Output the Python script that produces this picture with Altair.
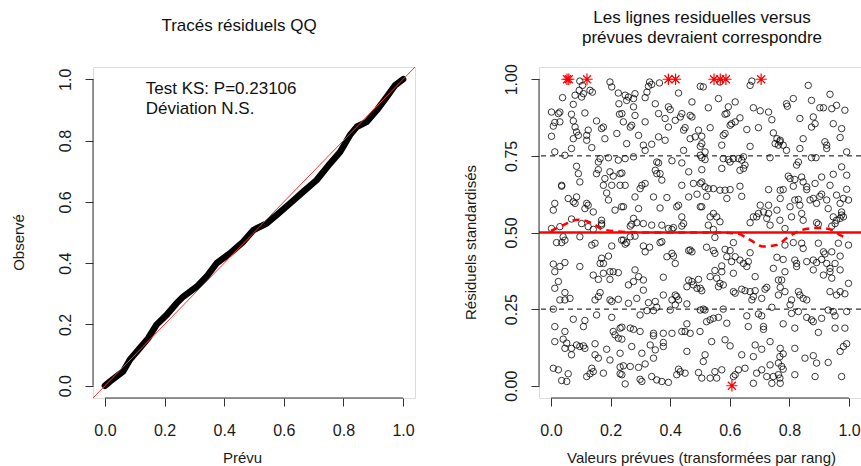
import altair as alt
import pandas as pd

# ---------------- left panel: QQ plot ----------------
qq_expected = [0.0, 0.017, 0.061, 0.084, 0.117, 0.145, 0.173, 0.207, 0.24, 0.263, 0.308, 0.341,
               0.375, 0.419, 0.464, 0.498, 0.543, 0.576, 0.621, 0.665, 0.71, 0.755, 0.789, 0.822,
               0.845, 0.878, 0.912, 0.945, 0.973, 1.0]
qq_observed = [0.0, 0.014, 0.047, 0.085, 0.123, 0.155, 0.199, 0.231, 0.269, 0.291, 0.323, 0.356,
               0.4, 0.432, 0.47, 0.508, 0.53, 0.557, 0.595, 0.633, 0.671, 0.725, 0.763, 0.818,
               0.845, 0.861, 0.899, 0.942, 0.98, 1.0]
identity_line = [-0.04, 1.04]
ks_x = [0.137, 0.137]
ks_y = [0.951, 0.886]
ks_text = ["Test KS: P=0.23106", "Déviation N.S."]

# ---------------- right panel: residuals vs predicted ----------------
pts_a = [(0.097,0.994),(0.106,0.98),(0.131,0.964),(0.095,0.964),(0.109,0.953),(0.081,0.948),(0.103,0.942),
         (0.198,0.991),(0.204,0.975),(0.226,0.955),(0.139,0.958),(0.039,0.94),(0.075,0.918),(0.228,0.92),
         (0.002,0.893),(0.03,0.893),(0.025,0.888),(0.069,0.886),(0.114,0.89),(0.23,0.886),
         (0.013,0.859),(0.03,0.861),(0.008,0.847),(0.075,0.864),(0.081,0.844),(0.153,0.864),(0.176,0.844),
         (0.17,0.839),(0.221,0.823),(0.086,0.828),(0.092,0.817),(0.125,0.834),(0.12,0.817),(0.002,0.814),
         (0.075,0.806),(0.12,0.801),(0.181,0.806),(0.069,0.774),(0.137,0.777),(0.013,0.763),(0.047,0.752),
         (0.165,0.741),(0.159,0.73),(0.193,0.744),(0.226,0.736),(0.086,0.716),(0.159,0.705),(0.153,0.692),
         (0.092,0.692),(0.198,0.698),(0.209,0.684),(0.232,0.692),(0.181,0.676),(0.097,0.665),(0.036,0.654),
         (0.036,0.651),(0.176,0.654),(0.204,0.654),(0.232,0.654),(0.187,0.629),(0.058,0.611),(0.086,0.616),
         (0.075,0.6),(0.081,0.595),(0.013,0.595),(0.193,0.606),(0.12,0.595),(0.125,0.589),(0.114,0.578),
         (0.008,0.573),(0.142,0.567),(0.215,0.573),(0.237,0.584),(0.17,0.54),(0.17,0.529),(0.17,0.524),
         (0.069,0.544),(0.103,0.529),(0.03,0.519),(0.002,0.513),(0.125,0.519),(0.142,0.51)]
pts_b = [(0.331,0.991),(0.338,0.983),(0.327,0.977),(0.364,0.988),(0.501,0.977),(0.428,0.955),(0.282,0.953),
         (0.322,0.958),(0.249,0.948),(0.26,0.942),(0.277,0.937),(0.254,0.931),(0.316,0.94),(0.35,0.92),
         (0.473,0.926),(0.394,0.91),(0.4,0.901),(0.277,0.91),(0.238,0.888),(0.282,0.882),(0.361,0.888),
         (0.383,0.872),(0.439,0.888),(0.434,0.877),(0.467,0.882),(0.473,0.877),(0.417,0.866),(0.316,0.861),
         (0.243,0.861),(0.271,0.85),(0.266,0.844),(0.394,0.844),(0.45,0.842),(0.445,0.834),(0.495,0.834),
         (0.467,0.806),(0.484,0.812),(0.294,0.817),(0.506,0.814),(0.361,0.812),(0.383,0.801),(0.254,0.79),
         (0.31,0.785),(0.338,0.788),(0.316,0.768),(0.445,0.768),(0.501,0.781),
         (0.249,0.741),(0.277,0.747),(0.355,0.73),(0.361,0.727),(0.406,0.734),(0.439,0.727),(0.501,0.752),
         (0.506,0.744),(0.238,0.694),(0.35,0.703),(0.355,0.692),(0.366,0.692),(0.372,0.671),(0.316,0.66),
         (0.305,0.654),(0.299,0.643),(0.249,0.654),(0.439,0.654),(0.462,0.698),(0.478,0.66),(0.501,0.66),
         (0.389,0.614),(0.344,0.616),(0.282,0.616),(0.462,0.616),(0.49,0.625),(0.501,0.584),(0.243,0.584),
         (0.428,0.589),(0.422,0.584),(0.294,0.578),(0.366,0.58),(0.439,0.551),(0.277,0.546),(0.288,0.532),
         (0.31,0.529),(0.271,0.527),(0.266,0.521),(0.338,0.524),(0.372,0.524),(0.394,0.513),(0.406,0.51),
         (0.411,0.516),(0.445,0.529),(0.439,0.521)]
pts_c = [(0.511,0.975),(0.567,0.991),(0.668,0.98),(0.674,0.994),(0.562,0.937),(0.528,0.907),(0.595,0.91),
         (0.618,0.926),(0.679,0.907),(0.702,0.897),(0.73,0.893),(0.59,0.888),(0.584,0.886),(0.741,0.868),
         (0.634,0.874),(0.618,0.861),(0.606,0.855),(0.601,0.85),(0.534,0.842),(0.696,0.842),(0.657,0.836),
         (0.584,0.823),(0.578,0.817),(0.746,0.825),(0.758,0.806),(0.769,0.801),(0.506,0.79),(0.752,0.79),
         (0.517,0.763),(0.573,0.785),(0.668,0.781),(0.763,0.785),
         (0.578,0.741),(0.595,0.738),(0.601,0.73),(0.612,0.741),(0.629,0.741),(0.646,0.747),(0.64,0.736),
         (0.517,0.738),(0.735,0.744),(0.651,0.72),(0.646,0.709),(0.573,0.709),(0.506,0.705),(0.634,0.703),
         (0.506,0.665),(0.517,0.649),(0.528,0.643),(0.545,0.643),(0.567,0.638),(0.584,0.638),(0.601,0.64),
         (0.634,0.651),(0.73,0.64),(0.769,0.638),(0.522,0.618),(0.59,0.611),(0.64,0.618),(0.769,0.611),
         (0.506,0.584),(0.545,0.562),(0.556,0.551),(0.534,0.551),(0.567,0.535),(0.528,0.524),(0.545,0.51),
         (0.668,0.532),(0.679,0.551),(0.696,0.562),(0.713,0.567),(0.73,0.562),(0.724,0.546),(0.735,0.524),
         (0.758,0.573),(0.702,0.589),(0.73,0.589),(0.69,0.551)]
pts_d = [(0.863,0.98),(0.936,0.951),(0.813,0.937),(0.874,0.931),(0.79,0.92),(0.793,0.912),(0.902,0.907),
         (0.914,0.907),(0.942,0.904),(0.958,0.915),(0.986,0.899),(0.835,0.872),(0.88,0.877),(0.886,0.855),
         (0.874,0.844),(0.947,0.855),(0.975,0.839),(0.846,0.806),(0.97,0.81),(0.768,0.796),(0.779,0.785),
         (0.79,0.768),(0.835,0.774),(0.919,0.796),(0.925,0.774),(0.925,0.785),(0.992,0.763),(0.874,0.744),
         (0.889,0.744),
         (0.83,0.73),(0.824,0.72),(0.975,0.714),(0.947,0.69),(0.992,0.687),(0.908,0.681),(0.796,0.684),
         (0.802,0.676),(0.818,0.673),(0.841,0.681),(0.846,0.665),(0.813,0.651),(0.858,0.649),(0.858,0.64),
         (0.779,0.64),(0.886,0.66),(0.936,0.654),(0.992,0.641),(0.981,0.611),(0.902,0.618),(0.908,0.625),
         (0.88,0.611),(0.869,0.606),(0.83,0.608),(0.818,0.606),(0.802,0.584),(0.835,0.589),(0.925,0.606),
         (0.958,0.622),(0.891,0.595),(0.97,0.595),(0.93,0.578),(0.975,0.567),(0.998,0.606),(0.807,0.551),
         (0.846,0.54),(0.841,0.562),(0.891,0.532),(0.897,0.527),(0.947,0.551),(0.958,0.54),(0.97,0.546),
         (0.975,0.557),(0.981,0.551),(0.953,0.529),(0.942,0.521),(0.785,0.513),(0.768,0.54)]
pts_e = [(0.041,0.486),(0.047,0.475),(0.019,0.467),(0.036,0.467),(0.097,0.486),(0.137,0.459),(0.148,0.465),
         (0.204,0.456),(0.237,0.475),(0.17,0.416),(0.176,0.399),(0.193,0.423),(0.165,0.399),(0.008,0.397),
         (0.013,0.372),(0.03,0.389),(0.047,0.402),(0.097,0.389),(0.142,0.361),(0.159,0.347),(0.176,0.367),
         (0.198,0.372),(0.209,0.372),(0.226,0.369),(0.198,0.347),(0.013,0.318),(0.025,0.34),(0.047,0.304),
         (0.03,0.28),(0.047,0.28),(0.064,0.285),(0.165,0.304),(0.159,0.291),(0.148,0.28),(0.198,0.28),
         (0.204,0.275),(0.226,0.282),(0.008,0.25),(0.075,0.217),(0.114,0.213),(0.109,0.193),(0.153,0.231),
         (0.204,0.223),(0.013,0.193),(0.047,0.177),(0.209,0.177),(0.215,0.166),(0.226,0.155),(0.232,0.188),
         (0.013,0.144),(0.041,0.152),(0.053,0.139),(0.047,0.122),(0.069,0.122),(0.086,0.133),(0.097,0.128),
         (0.109,0.13),(0.114,0.122),(0.148,0.137),(0.069,0.101),(0.148,0.101),(0.159,0.09),(0.187,0.119),
         (0.198,0.084),(0.008,0.057),(0.025,0.052),(0.058,0.039),(0.036,0.017),(0.053,0.014),(0.12,0.03),
         (0.131,0.039),(0.137,0.057),(0.142,0.046),(0.176,0.041),(0.232,0.061),(0.232,0.039)]
pts_f = [(0.243,0.475),(0.254,0.467),(0.249,0.462),(0.266,0.486),(0.282,0.488),(0.31,0.456),(0.316,0.437),
         (0.331,0.452),(0.366,0.467),(0.372,0.47),(0.406,0.432),(0.411,0.423),(0.389,0.421),(0.417,0.399),
         (0.467,0.443),(0.473,0.437),(0.462,0.441),(0.282,0.378),(0.294,0.356),(0.277,0.34),(0.26,0.329),
         (0.31,0.345),(0.31,0.312),(0.377,0.354),(0.462,0.345),(0.473,0.34),(0.478,0.329),(0.49,0.318),
         (0.501,0.318),(0.456,0.323),(0.495,0.347),(0.417,0.296),(0.422,0.291),(0.406,0.28),(0.428,0.28),
         (0.417,0.264),(0.377,0.296),(0.35,0.275),(0.327,0.271),(0.26,0.269),(0.288,0.285),(0.299,0.231),
         (0.322,0.245),(0.344,0.245),(0.355,0.256),(0.4,0.247),(0.456,0.267),(0.501,0.247),
         (0.238,0.191),(0.266,0.188),(0.277,0.184),(0.299,0.177),(0.344,0.171),(0.344,0.163),(0.377,0.171),
         (0.406,0.171),(0.439,0.177),(0.45,0.177),(0.467,0.171),(0.456,0.202),(0.377,0.141),(0.377,0.128),
         (0.333,0.133),(0.35,0.117),(0.271,0.128),(0.238,0.152),(0.232,0.106),(0.305,0.106),(0.344,0.09),
         (0.456,0.112),(0.316,0.071),(0.243,0.065),(0.266,0.063),(0.294,0.06),(0.428,0.054),(0.434,0.046),
         (0.45,0.041),(0.422,0.036),(0.495,0.043),(0.299,0.021),(0.305,0.014),(0.249,0.006),(0.355,0.019),
         (0.372,0.014),(0.394,0.011),(0.238,0.036),(0.338,0.03)]
pts_g = [(0.55,0.484),(0.612,0.467),(0.522,0.452),(0.545,0.441),(0.55,0.432),(0.584,0.445),(0.601,0.441),
         (0.59,0.421),(0.618,0.421),(0.606,0.405),(0.634,0.41),(0.646,0.399),(0.662,0.405),(0.668,0.434),
         (0.657,0.389),(0.612,0.367),(0.573,0.391),(0.55,0.376),(0.534,0.356),(0.573,0.372),(0.556,0.351),
         (0.567,0.334),(0.562,0.323),(0.578,0.329),(0.506,0.31),(0.612,0.307),(0.618,0.302),(0.64,0.315),
         (0.651,0.31),(0.668,0.307),(0.685,0.31),(0.679,0.291),(0.674,0.28),(0.707,0.285),(0.724,0.321),
         (0.718,0.315),(0.758,0.419),(0.746,0.383),(0.685,0.356),(0.763,0.345),(0.769,0.321),(0.763,0.296),
         (0.511,0.25),(0.517,0.247),(0.578,0.25),(0.741,0.256),
         (0.534,0.215),(0.522,0.209),(0.545,0.22),(0.562,0.223),(0.59,0.204),(0.657,0.228),(0.696,0.234),
         (0.707,0.228),(0.713,0.193),(0.713,0.184),(0.662,0.193),(0.5,0.177),(0.539,0.144),(0.584,0.15),
         (0.601,0.13),(0.685,0.133),(0.707,0.119),(0.735,0.144),(0.769,0.122),(0.517,0.101),(0.64,0.101),
         (0.679,0.095),(0.511,0.079),(0.55,0.046),(0.573,0.052),(0.629,0.052),(0.612,0.03),(0.618,0.036),
         (0.651,0.057),(0.69,0.041),(0.707,0.052),(0.724,0.03),(0.746,0.03),(0.741,0.008),(0.679,0.008),
         (0.763,0.074),(0.735,0.068),(0.506,0.025),(0.534,0.025),(0.556,0.025),(0.763,0.036),(0.769,0.008)]
pts_h = [(0.785,0.459),(0.813,0.467),(0.841,0.465),(0.846,0.448),(0.897,0.465),(0.964,0.465),(0.998,0.459),
         (0.914,0.437),(0.919,0.43),(0.942,0.437),(0.97,0.423),(0.779,0.412),(0.818,0.41),(0.824,0.399),
         (0.824,0.389),(0.858,0.405),(0.88,0.41),(0.891,0.402),(0.908,0.412),(0.925,0.399),(0.953,0.399),
         (0.88,0.378),(0.914,0.361),(0.936,0.383),(0.936,0.372),(0.942,0.351),(0.97,0.378),(0.785,0.372),
         (0.774,0.345),(0.998,0.334),(0.785,0.307),(0.83,0.307),(0.835,0.296),(0.846,0.285),(0.858,0.28),
         (0.807,0.28),(0.802,0.264),(0.936,0.307),(0.958,0.296),(0.97,0.307),(0.986,0.3),
         (0.807,0.236),(0.83,0.242),(0.93,0.247),(0.947,0.242),(0.953,0.228),(0.992,0.242),(0.858,0.223),
         (0.874,0.215),(0.88,0.209),(0.908,0.22),(0.779,0.202),(0.818,0.188),(0.897,0.174),(0.953,0.188),
         (0.986,0.188),(0.818,0.122),(0.97,0.112),(0.981,0.128),(0.992,0.137),(0.779,0.104),(0.768,0.095),
         (0.852,0.09),(0.88,0.098),(0.891,0.074),(0.93,0.076),(0.774,0.063),(0.779,0.054),(0.818,0.036),
         (0.886,0.03),(0.975,0.03),(0.768,0.025)]

outlier_x = [0.054, 0.06, 0.121, 0.394, 0.418, 0.547, 0.568, 0.587, 0.705, 0.607]
outlier_y = [1.0, 1.0, 1.0, 1.0, 1.0, 1.0, 1.0, 1.0, 1.0, 0.0]

median_x = [0.0, 0.041, 0.09, 0.142, 0.174, 0.25, 0.35, 0.45, 0.55, 0.623, 0.668, 0.712, 0.757,
            0.796, 0.859, 0.9, 0.942, 0.975, 0.997]
median_y = [0.505, 0.524, 0.542, 0.528, 0.51, 0.502, 0.5, 0.5, 0.5, 0.497, 0.476, 0.454, 0.459,
            0.486, 0.512, 0.515, 0.508, 0.489, 0.482]

quartile_refs = [0.25, 0.75]
median_ref = [0.5]
axis_span = [0.0, 1.0]

ticks_unit = [0.0, 0.2, 0.4, 0.6, 0.8, 1.0]
ticks_resid = [0.0, 0.25, 0.5, 0.75, 1.0]

FONT = "Liberation Sans"
DOM = [-0.04, 1.04]
W, H = 322, 331
AXC = "#333333"
TXT = "#1a1a1a"


def sc():
    return alt.Scale(domain=DOM, nice=False, zero=False)


def x_axis(title, title_x, fmt):
    return alt.Axis(values=ticks_unit, format=fmt, domain=False, grid=False, ticks=True,
                    tickSize=8, tickColor=AXC, tickWidth=1,
                    labelFont=FONT, labelFontSize=16, labelColor=TXT, labelPadding=16,
                    labelBaseline="top", labelAlign="center", labelFlush=False, labelOverlap=False,
                    title=title, titleFont=FONT, titleFontSize=15, titleFontWeight="normal",
                    titleColor=TXT, titleX=title_x, titleY=64, titleAlign="center",
                    titleBaseline="alphabetic")


def y_axis(title, title_x, fmt, values):
    return alt.Axis(values=values, format=fmt, domain=False, grid=False, ticks=True,
                    tickSize=8, tickColor=AXC, tickWidth=1,
                    labelFont=FONT, labelFontSize=16, labelColor=TXT, labelPadding=15,
                    labelAngle=270, labelAlign="center", labelBaseline="alphabetic",
                    labelFlush=False, labelOverlap=False,
                    title=title, titleFont=FONT, titleFontSize=15, titleFontWeight="normal",
                    titleColor=TXT, titleAngle=270, titleX=title_x, titleY=175,
                    titleAlign="center", titleBaseline="alphabetic")


# ---------------- left panel ----------------
ax_l = x_axis("Prévu", 149, ".1f")
ay_l = y_axis("Observé", -70, ".1f", ticks_unit)

qq_df = pd.DataFrame({"e": qq_expected, "o": qq_observed})
id_df = pd.DataFrame({"v": identity_line})
ks_df = pd.DataFrame({"x": ks_x, "y": ks_y, "t": ks_text})
span_df = pd.DataFrame({"a": [axis_span[0]], "b": [axis_span[1]]})

qq_line = alt.Chart(qq_df).mark_line(color="black", strokeWidth=6.5, strokeCap="round",
                                     strokeJoin="round").encode(
    x=alt.X("e:Q", scale=sc(), axis=ax_l),
    y=alt.Y("o:Q", scale=sc(), axis=ay_l),
)
id_line = alt.Chart(id_df).mark_line(color="#ff3030", strokeWidth=1).encode(
    x=alt.X("v:Q", scale=sc(), axis=ax_l),
    y=alt.Y("v:Q", scale=sc(), axis=ay_l),
)
ks_txt = alt.Chart(ks_df).mark_text(align="left", baseline="alphabetic", font=FONT,
                                    fontSize=17, color="#111111").encode(
    x=alt.X("x:Q", scale=sc(), axis=ax_l),
    y=alt.Y("y:Q", scale=sc(), axis=ay_l),
    text="t:N",
)


def axis_lines(axx, axy):
    yline = alt.Chart(span_df).mark_rule(color=AXC, strokeWidth=1).encode(
        x=alt.X(datum=DOM[0], scale=sc(), axis=axx),
        y=alt.Y("a:Q", scale=sc(), axis=axy),
        y2="b:Q",
    )
    xline = alt.Chart(span_df).mark_rule(color=AXC, strokeWidth=1).encode(
        y=alt.Y(datum=DOM[0], scale=sc(), axis=axy),
        x=alt.X("a:Q", scale=sc(), axis=axx),
        x2="b:Q",
    )
    return yline + xline


left = alt.layer(qq_line, id_line, ks_txt, axis_lines(ax_l, ay_l)).properties(
    width=W, height=H,
    title=alt.TitleParams("Tracés résiduels QQ", font=FONT, fontSize=17, fontWeight="normal",
                          color="#111111", anchor="middle", frame="group", dx=-15,
                          baseline="bottom", offset=13),
)

# ---------------- right panel ----------------
ax_r = x_axis("Valeurs prévues (transformées par rang)", 162, ".1f")
ay_r = y_axis("Résiduels standardisés", -64, ".2f", ticks_resid)

res_df = pd.DataFrame(pts_a + pts_b + pts_c + pts_d + pts_e + pts_f + pts_g + pts_h,
                      columns=["x", "y"])
out_df = pd.DataFrame({"x": outlier_x, "y": outlier_y})
med_df = pd.DataFrame({"x": median_x, "y": median_y})
q_df = pd.DataFrame({"q": quartile_refs})
m_df = pd.DataFrame({"q": median_ref})

circles = alt.Chart(res_df).mark_point(shape="circle", filled=False, size=42, stroke="black",
                                       strokeWidth=1, opacity=0.78).encode(
    x=alt.X("x:Q", scale=sc(), axis=ax_r),
    y=alt.Y("y:Q", scale=sc(), axis=ay_r),
)
quart = alt.Chart(q_df).mark_rule(color="black", strokeWidth=1, strokeDash=[5, 4]).encode(
    y=alt.Y("q:Q", scale=sc(), axis=ay_r),
)
med_rule = alt.Chart(m_df).mark_rule(color="#ff0000", strokeWidth=2.5).encode(
    y=alt.Y("q:Q", scale=sc(), axis=ay_r),
)
med_curve = alt.Chart(med_df).mark_line(color="#ff0000", strokeWidth=2.5, strokeDash=[7, 5],
                                        interpolate="monotone").encode(
    x=alt.X("x:Q", scale=sc(), axis=ax_r),
    y=alt.Y("y:Q", scale=sc(), axis=ay_r),
)
STAR = "M-1,0L1,0M0,-1L0,1M-0.7,-0.7L0.7,0.7M-0.7,0.7L0.7,-0.7"
stars = alt.Chart(out_df).mark_point(shape=STAR, filled=False, size=130, stroke="#ff0000",
                                     strokeWidth=1.2, opacity=1).encode(
    x=alt.X("x:Q", scale=sc(), axis=ax_r),
    y=alt.Y("y:Q", scale=sc(), axis=ay_r),
)

right = alt.layer(circles, quart, med_rule, med_curve, stars, axis_lines(ax_r, ay_r)).properties(
    width=W, height=H,
    title=alt.TitleParams(["Les lignes residuelles versus", "prévues devraient correspondre"],
                          font=FONT, fontSize=17, fontWeight="normal", color="#111111",
                          anchor="middle", frame="group", dx=2, baseline="bottom",
                          offset=0, lineHeight=20),
)

chart = alt.hconcat(left, right, spacing=124, bounds="flush").properties(
    autosize=alt.AutoSizeParams(type="none"),
    padding={"left": 93, "top": 67, "right": 768, "bottom": 399},
    background="white",
).configure_view(strokeWidth=0).configure(font=FONT)

chart.save("out.html", embed_options={"renderer": "svg", "actions": False})
